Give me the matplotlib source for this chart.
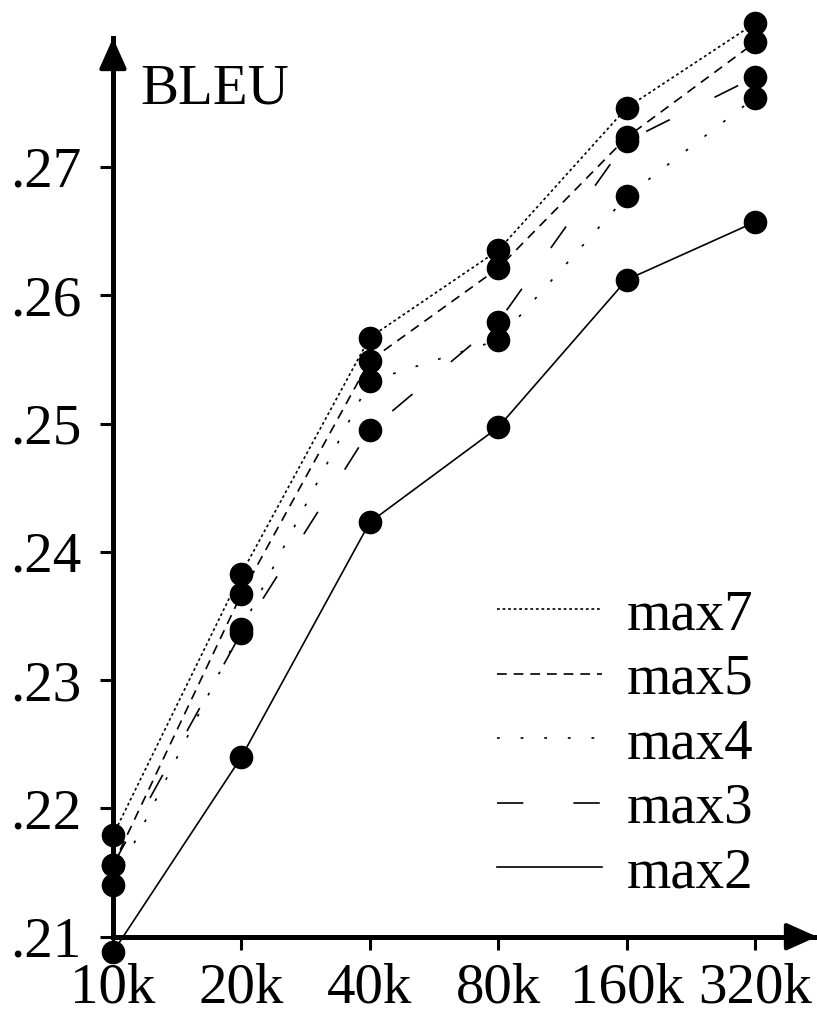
import matplotlib
matplotlib.use("Agg")
import matplotlib.pyplot as plt

plt.rcParams["font.family"] = ["Liberation Serif", "DejaVu Serif"]
plt.rcParams["lines.scale_dashes"] = False

sizes = ["10k", "20k", "40k", "80k", "160k", "320k"]
series_names = ["max7", "max5", "max4", "max3", "max2"]
max7 = [0.2179, 0.2383, 0.2567, 0.2635, 0.2746, 0.2812]
max5 = [0.2156, 0.2367, 0.2549, 0.2621, 0.2723, 0.2797]
max4 = [0.2140, 0.2340, 0.2533, 0.2565, 0.2677, 0.2754]
max3 = [0.2156, 0.2337, 0.2495, 0.2579, 0.2720, 0.2770]
max2 = [0.2088, 0.2240, 0.2423, 0.2497, 0.2612, 0.2657]
yticks = [0.21, 0.22, 0.23, 0.24, 0.25, 0.26, 0.27]
ytick_labels = [".21", ".22", ".23", ".24", ".25", ".26", ".27"]

styles = {
    "max7": (0, (2, 2)),
    "max5": (0, (7, 5)),
    "max4": (0, (2, 15)),
    "max3": (0, (19, 36)),
    "max2": "-",
}
values = {"max7": max7, "max5": max5, "max4": max4, "max3": max3, "max2": max2}

W, H = 817, 1010
fig = plt.figure(figsize=(W / 100, H / 100), dpi=100)
x0, y0 = 113, 936.7
ax = fig.add_axes([x0 / W, (H - y0) / H, (W - x0) / W, (y0 - 38) / H])

xs = list(range(len(sizes)))
for name in series_names:
    ax.plot(xs, values[name], color="black", lw=1.2, linestyle=styles[name],
            label=name, clip_on=False, zorder=2)
for name in series_names:
    ax.plot(xs, values[name], linestyle="none", marker="o", ms=16,
            color="black", clip_on=False, zorder=3)

ax.set_xlim(0, (W - x0) / 128.4)
ax.set_ylim(0.21, 0.21 + (y0 - 38) / 12830)

for s in ["top", "right"]:
    ax.spines[s].set_visible(False)
for s in ["left", "bottom"]:
    ax.spines[s].set_linewidth(3.6)

ax.set_xticks(xs)
ax.set_xticklabels(sizes)
ax.set_yticks(yticks)
ax.set_yticklabels(ytick_labels)
ax.tick_params(axis="both", direction="out", length=9.5, width=2.2,
               labelsize=41)
ax.tick_params(axis="y", pad=13)
ax.tick_params(axis="x", pad=9)

# arrow heads on the axes
arrow = dict(arrowstyle="-|>,head_length=0.85,head_width=0.38",
             color="black", lw=3.0, mutation_scale=22,
             shrinkA=0, shrinkB=0)
ax.annotate("", xy=(1.0, 0.21), xycoords=ax.get_yaxis_transform(),
            xytext=(-30, 0), textcoords="offset pixels", arrowprops=arrow)
ax.annotate("", xy=(0, 1.0), xycoords=ax.get_xaxis_transform(),
            xytext=(0, -30), textcoords="offset pixels", arrowprops=arrow)

fig.text(140 / W, 1 - 103 / H, "BLEU", fontsize=41, va="baseline")

ax.legend(loc="upper left", bbox_to_anchor=(497 / W, 1 - 589 / H),
          bbox_transform=fig.transFigure, frameon=False, fontsize=41,
          handlelength=1.84, handletextpad=0.44, labelspacing=0.22,
          borderpad=0, borderaxespad=0)

fig.savefig("out.png", dpi=100)
